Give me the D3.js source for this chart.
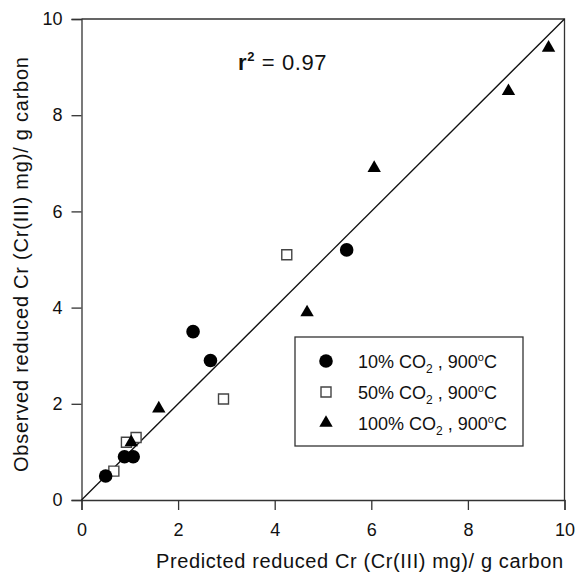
<!DOCTYPE html>
<html>
<head>
<meta charset="utf-8">
<script src="https://cdn.jsdelivr.net/npm/d3@7"></script>
<style>
  body { margin: 0; background: #fff; }
  text { font-family: Arial, "Liberation Sans", Helvetica, sans-serif; fill: #111; }
</style>
</head>
<body>
<div class="chart"></div>
<script>
// data: [predicted, observed]
var co2_10 = [[0.5, 0.5], [0.89, 0.9], [1.07, 0.9], [2.31, 3.5], [2.67, 2.9], [5.49, 5.2]];
var co2_50 = [[0.67, 0.6], [0.93, 1.2], [1.13, 1.3], [2.94, 2.1], [4.25, 5.1]];
var co2_100 = [[1.03, 1.2], [1.6, 1.9], [4.67, 3.9], [6.06, 6.9], [8.84, 8.5], [9.67, 9.4]];
var ticks = [0, 2, 4, 6, 8, 10];
var seriesNames = ["10% CO", "50% CO", "100% CO"];
var r2 = "0.97";

var W = 576, H = 574;
var margin = {top: 19, right: 11.5, bottom: 74, left: 81.5};
var width = W - margin.left - margin.right,
    height = H - margin.top - margin.bottom;

var svg = d3.select(".chart").append("svg")
    .attr("width", W)
    .attr("height", H);

var g = svg.append("g")
    .attr("transform", "translate(" + margin.left + "," + margin.top + ")");

var x = d3.scaleLinear().domain([0, 10]).range([0, width]);
var y = d3.scaleLinear().domain([0, 10]).range([height, 0]);

// axes
var xAxis = g.append("g")
    .attr("transform", "translate(0," + height + ")")
    .call(d3.axisBottom(x).tickValues(ticks).tickSize(10).tickPadding(13));
var yAxis = g.append("g")
    .call(d3.axisLeft(y).tickValues(ticks).tickSize(10).tickPadding(9));

[xAxis, yAxis].forEach(function(a) {
  a.select(".domain").attr("stroke", "#333").attr("stroke-width", 1.3);
  a.selectAll(".tick line").attr("stroke", "#333").attr("stroke-width", 1.3);
  a.selectAll(".tick text").style("font-size", "18px").attr("fill", "#111");
});

// top and right frame
g.append("path")
    .attr("d", "M0,0H" + width + "V" + height)
    .attr("fill", "none")
    .attr("stroke", "#333")
    .attr("stroke-width", 1.3);

// 1:1 line
g.append("line")
    .attr("x1", x(0)).attr("y1", y(0))
    .attr("x2", x(10)).attr("y2", y(10))
    .attr("stroke", "#111")
    .attr("stroke-width", 1.3);

var circle = d3.symbol().type(d3.symbolCircle).size(145);
var square = d3.symbol().type(d3.symbolSquare).size(100);
var triangle = d3.symbol().type(d3.symbolTriangle).size(78);

function drawSeries(data, sym, fill, stroke) {
  g.append("g").selectAll("path")
      .data(data)
    .enter().append("path")
      .attr("transform", function(d) { return "translate(" + x(d[0]) + "," + y(d[1]) + ")"; })
      .attr("d", sym)
      .attr("fill", fill)
      .attr("stroke", stroke)
      .attr("stroke-width", stroke === "none" ? 0 : 1.4);
}

drawSeries(co2_50, square, "#fff", "#444");
drawSeries(co2_10, circle, "#000", "none");
drawSeries(co2_100, triangle, "#000", "none");

// r^2 label
var rt = svg.append("text")
    .attr("x", 238)
    .attr("y", 70)
    .style("font-size", "22px")
    .style("letter-spacing", "0.6px");
rt.append("tspan").attr("font-weight", "bold").text("r");
rt.append("tspan").attr("font-weight", "bold").attr("dy", -9).style("font-size", "13px").text("2");
rt.append("tspan").attr("dy", 9).text(" = " + r2);

// legend
var legend = svg.append("g").attr("transform", "translate(295,337)");
legend.append("rect")
    .attr("width", 228)
    .attr("height", 109)
    .attr("fill", "#fff")
    .attr("stroke", "#333")
    .attr("stroke-width", 1.3);

var legSyms = [
  {sym: circle, fill: "#000", stroke: "none"},
  {sym: square, fill: "#fff", stroke: "#444"},
  {sym: triangle, fill: "#000", stroke: "none"}
];

seriesNames.forEach(function(name, i) {
  var row = legend.append("g").attr("transform", "translate(0," + (24 + i * 31) + ")");
  row.append("path")
      .attr("transform", "translate(31,0)")
      .attr("d", legSyms[i].sym)
      .attr("fill", legSyms[i].fill)
      .attr("stroke", legSyms[i].stroke)
      .attr("stroke-width", legSyms[i].stroke === "none" ? 0 : 1.4);
  var t = row.append("text")
      .attr("x", 63)
      .attr("y", 7)
      .style("font-size", "18px");
  t.append("tspan").text(name);
  t.append("tspan").attr("dy", 5).style("font-size", "12px").text("2");
  t.append("tspan").attr("dy", -5).text(" , 900");
  t.append("tspan").attr("dy", -7).style("font-size", "11px").text("o");
  t.append("tspan").attr("dy", 7).text("C");
});

// axis titles
svg.append("text")
    .attr("x", 156)
    .attr("y", 568)
    .style("font-size", "20px")
    .attr("textLength", 407)
    .attr("lengthAdjust", "spacing")
    .text("Predicted reduced Cr (Cr(III) mg)/ g carbon");

svg.append("text")
    .attr("transform", "translate(28,472) rotate(-90)")
    .style("font-size", "20px")
    .attr("textLength", 415)
    .attr("lengthAdjust", "spacing")
    .text("Observed reduced Cr (Cr(III) mg)/ g carbon");
</script>
</body>
</html>
